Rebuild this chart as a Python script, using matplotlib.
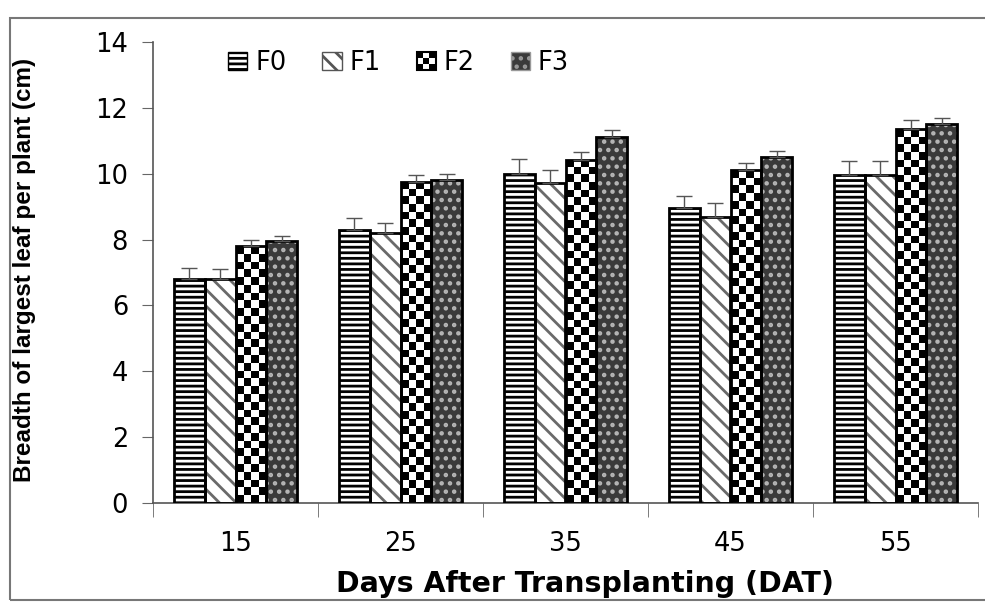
import numpy as np
import matplotlib
matplotlib.use("Agg")
import matplotlib.pyplot as plt
from matplotlib.patches import Rectangle, Patch
from matplotlib.legend_handler import HandlerPatch

categories = ["15", "25", "35", "45", "55"]
series = ["F0", "F1", "F2", "F3"]
F0 = [6.8, 8.3, 10.0, 8.95, 9.95]
F1 = [6.8, 8.2, 9.72, 8.7, 9.95]
F2 = [7.8, 9.75, 10.42, 10.1, 11.35]
F3 = [7.95, 9.8, 11.1, 10.5, 11.5]
E0 = [0.33, 0.36, 0.45, 0.36, 0.43]
E1 = [0.30, 0.30, 0.38, 0.40, 0.43]
E2 = [0.20, 0.20, 0.24, 0.24, 0.27]
E3 = [0.15, 0.20, 0.24, 0.18, 0.20]
values = [F0, F1, F2, F3]
errors = [E0, E1, E2, E3]

plt.rcParams['font.family'] = ['DejaVu Sans']
plt.rcParams['hatch.linewidth'] = 2.0

W, H = 985, 603
fig = plt.figure(figsize=(W / 100, H / 100), dpi=100)
ax = fig.add_axes([153 / W, 1 - 503 / H, (978 - 153) / W, (503 - 42) / H])

x = np.arange(len(categories))
bw = 0.186

hatch_face = ['white', 'white', 'white', '#3a3a3a']
hatch_col = ['black', '#6a6a6a', 'black', '#b5b5b5']
hatches = ['---', '\\\\', None, '..']

for i, (vals, errs) in enumerate(zip(values, errors)):
    pos = x + (i - 1.5) * bw
    if hatches[i] is not None:
        ax.bar(pos, vals, bw, color=hatch_face[i], edgecolor=hatch_col[i],
               hatch=hatches[i], linewidth=0, zorder=2)
    else:
        bars = ax.bar(pos, vals, bw, color='white', linewidth=0, zorder=2)
        for b in bars:
            x0 = b.get_x()
            h = b.get_height()
            ncols = 4
            nrows = int(round(h * 32.93 / 7.7))
            rr, cc = np.indices((nrows, ncols))
            checker = ((rr + cc) % 2).astype(float)
            im = ax.imshow(checker, cmap='gray', vmin=0, vmax=1,
                           extent=(x0, x0 + bw, 0, h), aspect='auto',
                           interpolation='nearest', zorder=2.5)
            im.set_clip_path(b)
    ax.bar(pos, vals, bw, fill=False, edgecolor='black', linewidth=2, zorder=3)
    ax.errorbar(pos, vals, yerr=[np.zeros(len(errs)), errs], fmt='none',
                ecolor='#555555', elinewidth=1, capsize=6, capthick=1, zorder=4)

ax.set_xlim(-0.5, 4.5)
ax.set_ylim(0, 14)
ax.set_yticks(np.arange(0, 15, 2))
ax.set_xticks(x)
ax.set_xticklabels(categories)
ax.set_xticks(np.arange(-0.5, 5, 1), minor=True)
ax.tick_params(axis='x', which='major', length=0, pad=20, labelsize=18.5)
ax.tick_params(axis='x', which='minor', length=10, direction='out', color='#666666')
ax.tick_params(axis='y', length=8, direction='out', labelsize=18.5, pad=10, color='#666666')
for s in ['top', 'right']:
    ax.spines[s].set_visible(False)
ax.spines['left'].set_color('#555555')
ax.spines['bottom'].set_color('#555555')
ax.spines['left'].set_linewidth(1.2)
ax.spines['bottom'].set_linewidth(1.2)

ax.set_xlabel('Days After Transplanting (DAT)', fontsize=20.5, fontweight='bold', labelpad=11)
ax.xaxis.set_label_coords(0.524, -0.145)
fig.text(25 / W, 1 - 270 / H, 'Breadth of largest leaf per plant (cm)', rotation=90,
         ha='center', va='center', fontsize=17.5, fontweight='bold',
         family=['Liberation Sans'])


class CheckerHandler(HandlerPatch):
    def create_artists(self, legend, orig_handle, xdescent, ydescent, width, height, fontsize, trans):
        arts = []
        n = 3
        w = width / n
        hh = height / n
        for r in range(n):
            for c in range(n):
                col = 'black' if (r + c) % 2 == 0 else 'white'
                rect = Rectangle((-xdescent + c * w, -ydescent + r * hh), w, hh,
                                 facecolor=col, edgecolor='none', transform=trans)
                arts.append(rect)
        arts.append(Rectangle((-xdescent, -ydescent), width, height, fill=False,
                              edgecolor='black', linewidth=1.5, transform=trans))
        return arts


handles = [Patch(facecolor='white', edgecolor='black', hatch='---'),
           Patch(facecolor='white', edgecolor='#555555', hatch='\\\\'),
           Patch(facecolor='white', edgecolor='black'),
           Patch(facecolor='#3a3a3a', edgecolor='#999999', hatch='..')]
leg = ax.legend(handles, series, loc='upper left', bbox_to_anchor=(0.063, 1.033), ncol=4,
                frameon=False, fontsize=18.5, handlelength=0.75, handleheight=0.75,
                handletextpad=0.3, columnspacing=1.4,
                handler_map={handles[2]: CheckerHandler()})

fig.patches.append(Rectangle((10 / W, 3 / H), 1.0, 1 - 21 / H, transform=fig.transFigure,
                             fill=False, edgecolor='#777777', linewidth=1.5))

fig.savefig('out.png', dpi=100)
